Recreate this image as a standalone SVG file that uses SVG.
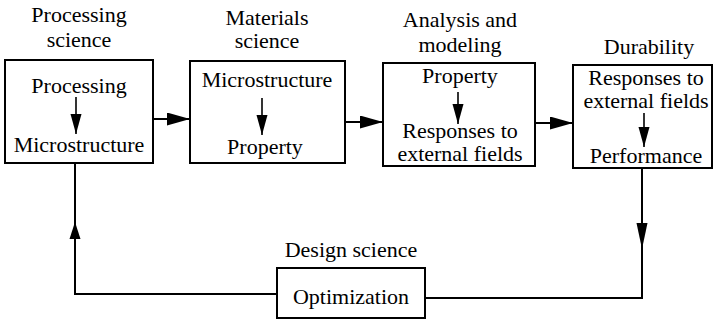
<svg xmlns="http://www.w3.org/2000/svg" width="718" height="322" viewBox="0 0 718 322">
<style>
text{font-family:"Liberation Serif","Times New Roman",serif;font-size:22px;fill:#000;text-anchor:middle}
.box{fill:#fff;stroke:#000;stroke-width:2}
.ln{fill:none;stroke:#000;stroke-width:2}
.in{fill:none;stroke:#000;stroke-width:1.6}
</style>
<defs>
<marker id="big" markerUnits="userSpaceOnUse" markerWidth="24" markerHeight="14" refX="23" refY="6.5" orient="auto"><path d="M0,0 L23,6.5 L0,13 z" fill="#000"/></marker>
<marker id="small" markerUnits="userSpaceOnUse" markerWidth="22" markerHeight="12" refX="20" refY="5.5" orient="auto"><path d="M0,0 L20,5.5 L0,11 z" fill="#000"/></marker>
</defs>
<rect width="718" height="322" fill="#fff"/>
<g id="connectors">
<path class="ln" d="M153,119 H190" marker-end="url(#big)"/>
<path class="ln" d="M345,122 H383" marker-end="url(#big)"/>
<path class="ln" d="M535,123 H573" marker-end="url(#big)"/>
<path class="ln" d="M277,294 H75 V163"/>
<path d="M75,222 L80.5,239 L69.5,239 z" fill="#000"/>
<path class="ln" d="M425,298 H642 V168"/>
<path d="M642,249 L636.5,223 L647.5,223 z" fill="#000"/>
</g>
<g id="processing-science">
<text x="79" y="22">Processing</text>
<text x="79" y="47">science</text>
<rect class="box" x="5" y="60" width="148" height="103"/>
<text x="79" y="93">Processing</text>
<path class="in" d="M76,97 V134" marker-end="url(#small)"/>
<text x="79" y="152">Microstructure</text>
</g>
<g id="materials-science">
<text x="267" y="25">Materials</text>
<text x="267" y="48">science</text>
<rect class="box" x="190" y="61" width="155" height="102"/>
<text x="267" y="87">Microstructure</text>
<path class="in" d="M262,98 V135" marker-end="url(#small)"/>
<text x="265" y="154">Property</text>
</g>
<g id="analysis-modeling">
<text x="460" y="27">Analysis and</text>
<text x="460" y="52">modeling</text>
<rect class="box" x="383" y="63" width="152" height="103"/>
<text x="460" y="83">Property</text>
<path class="in" d="M458,92 V124" marker-end="url(#small)"/>
<text x="460" y="138">Responses to</text>
<text x="460" y="161">external fields</text>
</g>
<g id="durability">
<text x="649" y="54">Durability</text>
<rect class="box" x="573" y="65" width="139" height="103"/>
<text x="646" y="85">Responses to</text>
<text x="646" y="108">external fields</text>
<path class="in" d="M644,113 V147" marker-end="url(#small)"/>
<text x="646" y="163">Performance</text>
</g>
<g id="design-science">
<text x="351" y="257">Design science</text>
<rect class="box" x="277" y="268" width="148" height="50"/>
<text x="351" y="304">Optimization</text>
</g>
</svg>
